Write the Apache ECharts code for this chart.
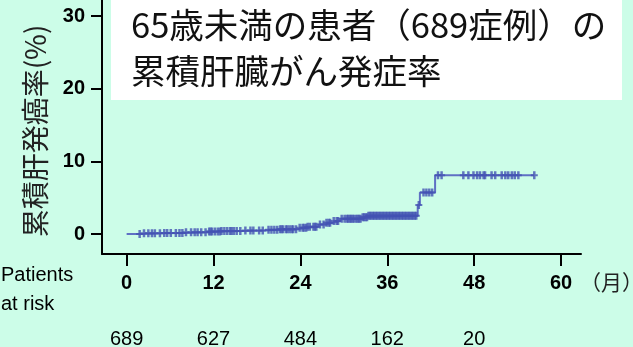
<!DOCTYPE html>
<html>
<head>
<meta charset="utf-8">
<script src="https://cdn.jsdelivr.net/npm/echarts@6/dist/echarts.min.js"></script>
<style>
  html, body { margin: 0; padding: 0; background: #ccfde8; }
  #chart { width: 633px; height: 347px; }
</style>
</head>
<body>
<div id="chart"></div>
<script>
// Kaplan–Meier style cumulative incidence (%), step changes at these months
const eventMonths = [0, 2, 5, 8, 11, 13, 16, 19, 21, 23.5, 25, 26.5, 27.5, 28.5, 29.5, 32.5, 33.3, 40.2, 40.5, 42.6, 56.3];
const cumRate     = [0, 0.1, 0.15, 0.25, 0.35, 0.4, 0.5, 0.6, 0.65, 0.85, 1.0, 1.3, 1.55, 1.8, 2.1, 2.3, 2.5, 4.0, 5.7, 8.1, 8.1];

// Censored observations (months)
const censorMonths = [
  1.8, 2.4, 3.0, 3.5, 3.9, 4.6, 5.2, 5.6, 6.1, 6.8, 7.3, 7.7, 8.2, 8.9, 9.4, 9.8,
  10.3, 10.9, 11.4, 11.8, 12.2, 12.6, 13.1, 13.5, 13.9, 14.3, 14.8, 15.2, 15.7,
  16.4, 17.1, 17.5, 18.3, 18.8, 19.6, 20.0, 20.4, 20.8, 21.2, 21.6, 22.0, 22.5,
  23.0, 23.4, 23.9, 24.3, 24.8, 25.3, 25.8, 26.2, 26.7, 27.2, 27.6, 28.1, 28.6,
  29.2, 29.7, 30.1, 30.6, 31.0, 31.4, 31.9, 32.3, 32.8, 33.2, 33.6, 34.0, 34.4,
  34.8, 35.2, 35.6, 36.0, 36.4, 36.8, 37.2, 37.6, 38.0, 38.4, 38.8, 39.2, 39.6,
  40.0, 40.35, 41.0, 41.4, 41.8, 42.2, 43.0, 43.5, 46.5, 47.2, 47.9, 48.4, 48.8,
  49.3, 49.5, 50.4, 50.9, 51.8, 52.3, 52.7, 53.2, 53.6, 54.1, 56.3,
  // closely spaced follow-up ends in the second half of follow-up
  11.6, 12.9, 14.5, 21.4, 22.2, 22.8, 24.5, 25.0, 26.0, 27.9, 29.0, 30.4, 30.8,
  31.2, 31.7, 32.1, 32.6, 33.0, 33.4, 33.8, 34.2, 34.6, 35.0, 35.4, 35.8, 36.2,
  36.6, 37.0, 37.4, 37.8, 38.2, 38.6, 39.0, 39.4, 39.8
];

const xTicks = [0, 12, 24, 36, 48, 60];
const yTicks = [0, 10, 20, 30];
const riskMonths = [0, 12, 24, 36, 48];
const riskCounts = [689, 627, 484, 162, 20];

const titleLines = ['65歳未満の患者（689症例）の', '累積肝臓がん発症率'];
const yName = '累積肝発癌率(%)';
const xUnit = '（月）';
const riskLabel = ['Patients', 'at risk'];

// value of the step curve at time t
function rateAt(t) {
  let v = cumRate[0];
  for (let i = 0; i < eventMonths.length; i++) {
    if (eventMonths[i] <= t) v = cumRate[i];
  }
  return v;
}

const curveData = eventMonths.map((m, i) => [m, cumRate[i]]);
const censorData = censorMonths.map(m => [m, rateAt(m)]);

const latin = '"Liberation Sans", Arial, sans-serif';
const cjk = '"Noto Sans CJK JP", "Noto Sans", sans-serif';

const chart = echarts.init(document.getElementById('chart'), null, { renderer: 'canvas' });

chart.setOption({
  backgroundColor: '#ccfde8',
  animation: false,
  grid: { left: 102, right: 52, top: 0, bottom: 93, outerBoundsMode: 'none', containLabel: false },
  xAxis: [{
    type: 'value',
    min: -3.4,
    max: 62.75,
    splitLine: { show: false },
    axisLine: { show: true, onZero: false, lineStyle: { color: '#000', width: 2 } },
    axisTick: { show: true, length: 12, lineStyle: { color: '#000', width: 2 }, customValues: xTicks },
    axisLabel: {
      customValues: xTicks,
      margin: 19,
      color: '#000',
      fontFamily: latin,
      fontWeight: 'bold',
      fontSize: 20,
      lineHeight: 20
    }
  }, {
    type: 'value',
    position: 'bottom',
    min: -3.4,
    max: 62.75,
    splitLine: { show: false },
    axisLine: { show: false, onZero: false },
    axisTick: { show: false },
    axisLabel: {
      customValues: riskMonths,
      margin: 75,
      color: '#000',
      fontFamily: latin,
      fontSize: 20,
      lineHeight: 20,
      formatter: v => String(riskCounts[riskMonths.indexOf(v)])
    }
  }],
  yAxis: {
    type: 'value',
    min: -2.75,
    max: 32.2,
    splitLine: { show: false },
    axisLine: { show: true, onZero: false, lineStyle: { color: '#000', width: 2 } },
    axisTick: { show: true, length: 11, lineStyle: { color: '#000', width: 2 }, customValues: yTicks },
    axisLabel: {
      customValues: yTicks,
      margin: 17,
      color: '#000',
      fontFamily: latin,
      fontWeight: 'bold',
      fontSize: 20
    }
  },
  series: [{
    type: 'line',
    step: 'end',
    data: curveData,
    showSymbol: false,
    lineStyle: { color: '#5f70c4', width: 2 },
    z: 2
  }, {
    type: 'scatter',
    data: censorData,
    symbol: 'path://M2,0H4.2V8H2Z M0,3H6.2V5H0Z',
    symbolSize: [7, 8],
    itemStyle: { color: '#4353b3' },
    z: 3
  }],
  graphic: [
    {
      type: 'rect',
      shape: { x: 111, y: -2, width: 511, height: 102 },
      style: { fill: '#ffffff' },
      z: 10
    },
    {
      type: 'text',
      x: 131, y: 25,
      style: { text: titleLines[0], font: '34.5px ' + cjk, fill: '#111', verticalAlign: 'middle' },
      z: 11
    },
    {
      type: 'text',
      x: 131, y: 71,
      style: { text: titleLines[1], font: '34.5px ' + cjk, fill: '#111', verticalAlign: 'middle' },
      z: 11
    },
    {
      type: 'text',
      x: 35, y: 131,
      rotation: Math.PI / 2,
      style: { text: yName, font: '28px ' + cjk, fill: '#222', align: 'center', verticalAlign: 'middle' },
      z: 11
    },
    {
      type: 'text',
      x: 580, y: 282,
      style: { text: xUnit, font: '21px ' + cjk, fill: '#222', verticalAlign: 'middle' },
      z: 11
    },
    {
      type: 'text',
      x: 1, y: 275,
      style: { text: riskLabel[0], font: '20px ' + latin, fill: '#000', verticalAlign: 'middle' },
      z: 11
    },
    {
      type: 'text',
      x: 1, y: 304,
      style: { text: riskLabel[1], font: '20px ' + latin, fill: '#000', verticalAlign: 'middle' },
      z: 11
    }
  ]
});
</script>
</body>
</html>
